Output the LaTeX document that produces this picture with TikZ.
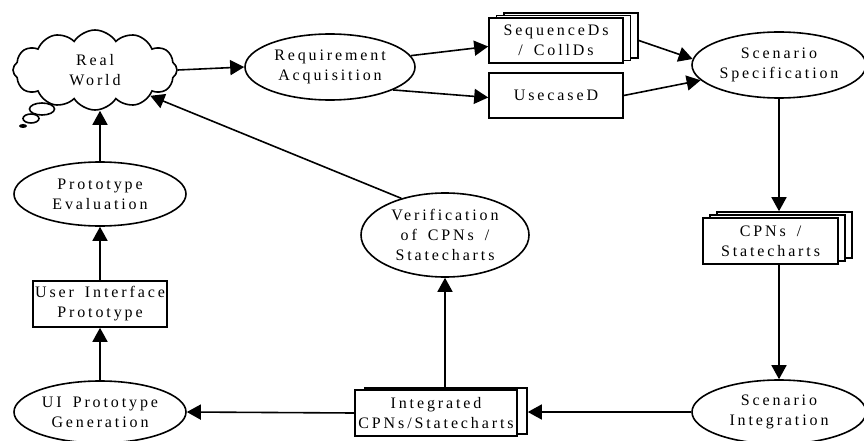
\documentclass[tikz,border=0pt]{standalone}
\usepackage{fontspec}
\setmainfont[LetterSpace=18,WordSpace=1.6]{Liberation Serif}
\usetikzlibrary{arrows.meta,shapes.geometric,shapes.symbols}
\begin{document}
\begin{tikzpicture}[x=1pt,y=-1pt,
  font=\fontsize{16}{20}\selectfont,
  line width=1.6pt,
  arr/.style={-{Triangle[length=14pt,width=15pt]}},
  ell/.style 2 args={draw, fill=white, ellipse, inner sep=0pt, minimum width=#1, minimum height=#2, align=center},
  sbox/.style 2 args={draw, fill=white, rectangle, inner sep=0pt, minimum width=#1, minimum height=#2, align=center}]
\useasboundingbox (0,0) rectangle (864,441);
% cloud
\node[draw, cloud, cloud puffs=12, cloud puff arc=115, aspect=2.05, inner sep=0pt,
      minimum width=164pt, minimum height=80pt, align=center] (cloud) at (95,70) {Real\\World};
\draw[fill=white] (42,109) ellipse [x radius=12.5, y radius=6];
\draw[fill=white] (31,118.5) ellipse [x radius=8, y radius=4.5];
\fill (23,126) ellipse [x radius=4, y radius=2];
% ellipses
\node[ell={170pt}{66pt}] (req) at (330,67) {Requirement\\Acquisition};
\node[ell={174pt}{66pt}] (spec) at (779,65) {Scenario\\Specification};
\node[ell={174pt}{64pt}] (scenint) at (779,412) {Scenario\\Integration};
\node[ell={168pt}{84pt}] (verif) at (445,235) {Verification\\of CPNs /\\Statecharts};
\node[ell={172pt}{62pt}] (uigen) at (100,412) {UI Prototype\\Generation};
\node[ell={172pt}{64pt}] (proto) at (100,194) {Prototype\\Evaluation};
% boxes
\node[sbox={134pt}{45pt}] (seq3) at (571,35.5) {};
\node[sbox={134pt}{45pt}] (seq2) at (563.5,38) {};
\node[sbox={134pt}{45pt}] (seq) at (556,40.5) {SequenceDs\\/ CollDs};
\node[sbox={134pt}{45pt}] (use) at (556,95.5) {UsecaseD};
\node[sbox={135pt}{46pt}] (cpn3) at (784.5,235) {};
\node[sbox={135pt}{46pt}] (cpn2) at (777.5,238) {};
\node[sbox={135pt}{46pt}] (cpn) at (770.5,241) {CPNs /\\Statecharts};
\node[sbox={162pt}{46pt}] (integ2) at (446,411) {};
\node[sbox={162pt}{46pt}] (integ) at (436,413) {Integrated\\CPNs/Statecharts};
\node[sbox={134pt}{46pt}] (uibox) at (100,304) {User Interface\\Prototype};
% connectors
\draw[arr] (cloud.east) -- (req.west);
\draw[arr] (req.8) -- ([yshift=-6pt]seq.west);
\draw[arr] (req.-20) -- ([yshift=-2pt]use.west);
\draw[arr] (seq.east -| seq3.east) -- (spec.176);
\draw[arr] (use.east) -- (spec.191);
\draw[arr] (spec.south) -- (spec.south |- cpn3.north);
\draw[arr] (spec.south |- cpn.south) -- (scenint.north);
\draw[arr] (scenint.west) -- (scenint.west -| integ2.east);
\draw[arr] (integ2.north -| verif.south) -- (verif.south);
\draw[arr] (integ.west) -- (uigen.east);
\draw[arr] (uigen.north) -- (uibox.south);
\draw[arr] (uibox.north) -- (proto.south);
\draw[arr] (proto.north) -- (proto.north |- cloud.south);
\draw[arr] (verif.140) -- (cloud.-25);
\end{tikzpicture}
\end{document}
